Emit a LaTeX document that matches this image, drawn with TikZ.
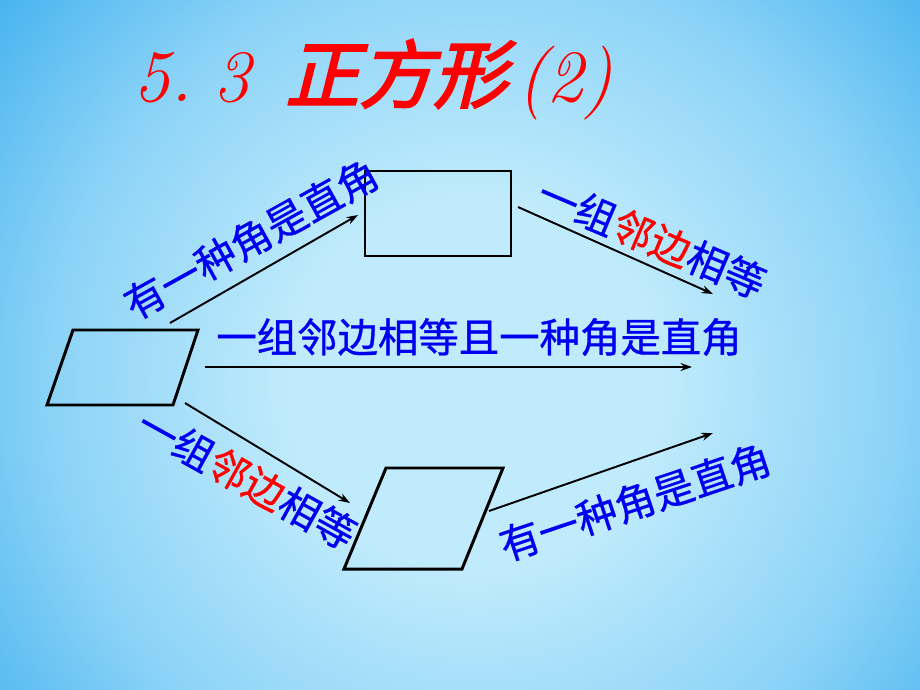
\documentclass[tikz,border=0pt]{standalone}
\usepackage{fontspec}
\usetikzlibrary{arrows.meta}
\newfontfamily\cjk[FakeBold=0.8]{Noto Sans CJK SC}
\newfontfamily\cjktitle[FakeBold=3,FakeSlant=0.25]{Noto Sans CJK SC}
\definecolor{bgin}{RGB}{192,235,252}
\definecolor{bgmid}{RGB}{140,211,247}
\definecolor{bgout}{RGB}{55,172,237}
\definecolor{labelblue}{RGB}{0,0,240}
\pgfdeclareradialshading{skyglow}{\pgfpointorigin}{color(0bp)=(bgin); color(7bp)=(bgin); color(16bp)=(bgmid); color(25bp)=(bgout); color(50bp)=(bgout)}
\tikzset{
  figline/.style={draw=black, line width=1.7pt, line join=miter},
  link/.style={-{Stealth[length=6.5pt,width=4.5pt]}, line width=1.1pt},
  lbl/.style={text=labelblue, font=\cjk\fontsize{23}{23}\selectfont, inner sep=0pt},
  heading/.style={text=red, inner sep=0pt, anchor=west}
}
\newcommand{\hl}[1]{\textcolor{red}{#1}}
\begin{document}
\begin{tikzpicture}[x=0.02cm,y=-0.02cm]
  \useasboundingbox (0,0) rectangle (920,690);
  \begin{scope}
    \clip (0,0) rectangle (920,690);
    \fill[bgout] (0,0) rectangle (920,690);
    \shade[shading=skyglow] (475,385) circle (660);
  \end{scope}
  \node[heading] (title) at (133,80) {\fontsize{42}{42}\selectfont\itshape 5.\hspace{12pt}3\hspace{20pt}{\cjktitle 正方形}\hspace{6pt}(2)};
  \draw[figline] (47,405) -- (73,330) -- (198,330) -- (173,405) -- cycle;
  \draw[figline] (365,171) rectangle (511,256);
  \draw[figline] (344,569) -- (386,468) -- (503,468) -- (462,569) -- cycle;
  \coordinate (para up) at (170,323);
  \coordinate (para mid) at (205,367);
  \coordinate (para low) at (185,403);
  \coordinate (rect in) at (358,215);
  \coordinate (rect out) at (518,207);
  \coordinate (rhomb in) at (350,503);
  \coordinate (rhomb out) at (489,511);
  \coordinate (sq top) at (713,294);
  \coordinate (sq mid) at (692,367);
  \coordinate (sq low) at (713,433);
  \draw[link] (para up) -- (rect in);
  \draw[link] (rect out) -- (sq top);
  \draw[link] (para mid) -- (sq mid);
  \draw[link] (para low) -- (rhomb in);
  \draw[link] (rhomb out) -- (sq low);
  \node[lbl, rotate=29] (angle1) at (251,239) {有一种角是直角};
  \node[lbl, rotate=-23] (side1) at (652,238) {一组\hl{邻边}相等};
  \node[lbl] (both) at (479,337) {一组邻边相等且一种角是直角};
  \node[lbl, rotate=-29] (side2) at (247,479) {一组\hl{邻边}相等};
  \node[lbl, rotate=18.5] (angle2) at (635,502) {有一种角是直角};
\end{tikzpicture}
\end{document}
